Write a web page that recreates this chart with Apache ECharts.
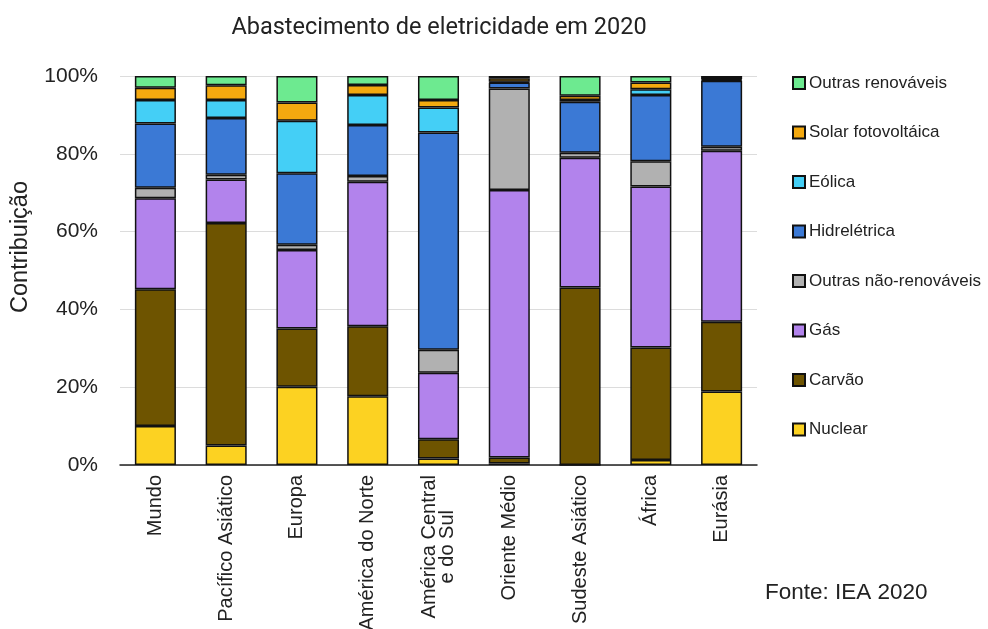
<!DOCTYPE html>
<html>
<head>
<meta charset="utf-8">
<script src="https://cdn.jsdelivr.net/npm/echarts@6/dist/echarts.min.js"></script>
<style>html,body{margin:0;padding:0;background:#fff}#c{width:988px;height:629px}</style>
</head>
<body>
<div id="c"></div>
<script>
const categories = ['Mundo', 'Pacífico Asiático', 'Europa', 'América do Norte', 'América Central\ne do Sul', 'Oriente Médio', 'Sudeste Asiático', 'África', 'Eurásia'];
const yTicks = [0, 20, 40, 60, 80, 100];

const nuclear        = [10.0,  5.0, 20.1, 17.7,  1.7,  0.4,  0.0,  1.3, 18.9];
const carvao         = [35.2, 57.2, 15.0, 18.0,  4.9,  1.5, 45.6, 28.9, 17.9];
const gas            = [23.4, 11.2, 20.2, 37.1, 17.1, 68.8, 33.4, 41.4, 44.0];
const outrasNaoRenov = [ 2.7,  1.2,  1.3,  1.5,  5.9, 26.1,  1.3,  6.5,  1.0];
const hidreletrica   = [16.5, 14.6, 18.4, 13.1, 55.9,  1.5, 13.1, 17.0, 17.0];
const eolica         = [ 6.0,  4.6, 13.5,  7.7,  6.4,  0.2,  0.4,  1.5,  0.2];
const solar          = [ 3.2,  3.8,  4.7,  2.6,  1.9,  0.9,  1.1,  1.7,  0.2];
const outrasRenov    = [ 3.0,  2.4,  6.8,  2.3,  6.2,  0.6,  5.1,  1.7,  0.8];

const seriesDefs = [
  ['Nuclear', nuclear, '#FCD222'],
  ['Carvão', carvao, '#6E5400'],
  ['Gás', gas, '#B283EC'],
  ['Outras não-renováveis', outrasNaoRenov, '#B1B1B1'],
  ['Hidrelétrica', hidreletrica, '#3B79D5'],
  ['Eólica', eolica, '#44CFF6'],
  ['Solar fotovoltáica', solar, '#F4A90F'],
  ['Outras renováveis', outrasRenov, '#6DEA90']
];

const chart = echarts.init(document.getElementById('c'), null, {renderer: 'canvas'});
const FONT = 'Liberation Sans, Arial, sans-serif';
chart.setOption({
  animation: false,
  backgroundColor: '#fff',
  title: {
    text: 'Abastecimento de eletricidade em 2020',
    left: 434, top: 11, textAlign: 'center',
    textStyle: {fontFamily: 'Roboto, sans-serif', fontSize: 23.5, fontWeight: 'normal', color: '#222'}
  },
  legend: {
    orient: 'vertical',
    left: 792, top: 74.5, padding: 0,
    itemWidth: 12, itemHeight: 12, itemGap: 32.5,
    icon: 'rect',
    data: seriesDefs.map(s => s[0]).reverse(),
    textStyle: {fontFamily: FONT, fontSize: 17, color: '#222', padding: [0, 0, 0, -1]}
  },
  grid: {left: 120, right: 231, top: 76, bottom: 164, outerBoundsMode: 'none', containLabel: false},
  xAxis: {
    type: 'category',
    data: categories,
    axisLine: {lineStyle: {color: '#222', width: 1.5}},
    axisTick: {show: false},
    axisLabel: {
      rotate: 90, margin: 10, interval: 0,
      fontFamily: FONT, fontSize: 20, color: '#222',
      formatter: v => v.split('\n').map(l => '{c|' + l + '}').join('\n'),
      rich: {c: {align: 'center', fontFamily: FONT, fontSize: 20, color: '#222', lineHeight: 18}}
    }
  },
  yAxis: {
    type: 'value',
    min: yTicks[0], max: yTicks[yTicks.length - 1], interval: 20,
    axisLine: {show: false},
    axisTick: {show: false},
    splitLine: {lineStyle: {color: '#dcdcdc', width: 1}},
    axisLabel: {
      margin: 22, fontFamily: FONT, fontSize: 21, color: '#222',
      formatter: v => v + '%'
    }
  },
  graphic: [
    {type: 'text', left: 9, top: 181, rotation: Math.PI / 2,
      style: {text: 'Contribuição', fontFamily: FONT, fontSize: 23.5, fill: '#222'}},
    {type: 'text', left: 765, top: 581,
      style: {text: 'Fonte: IEA 2020', fontFamily: FONT, fontSize: 22.5, fill: '#222'}}
  ],
  series: seriesDefs.map(([name, data, color]) => ({
    name, type: 'bar', stack: 'total', data,
    barWidth: '58%',
    itemStyle: {color, borderColor: '#111', borderWidth: 1.5}
  }))
});
</script>
</body>
</html>
